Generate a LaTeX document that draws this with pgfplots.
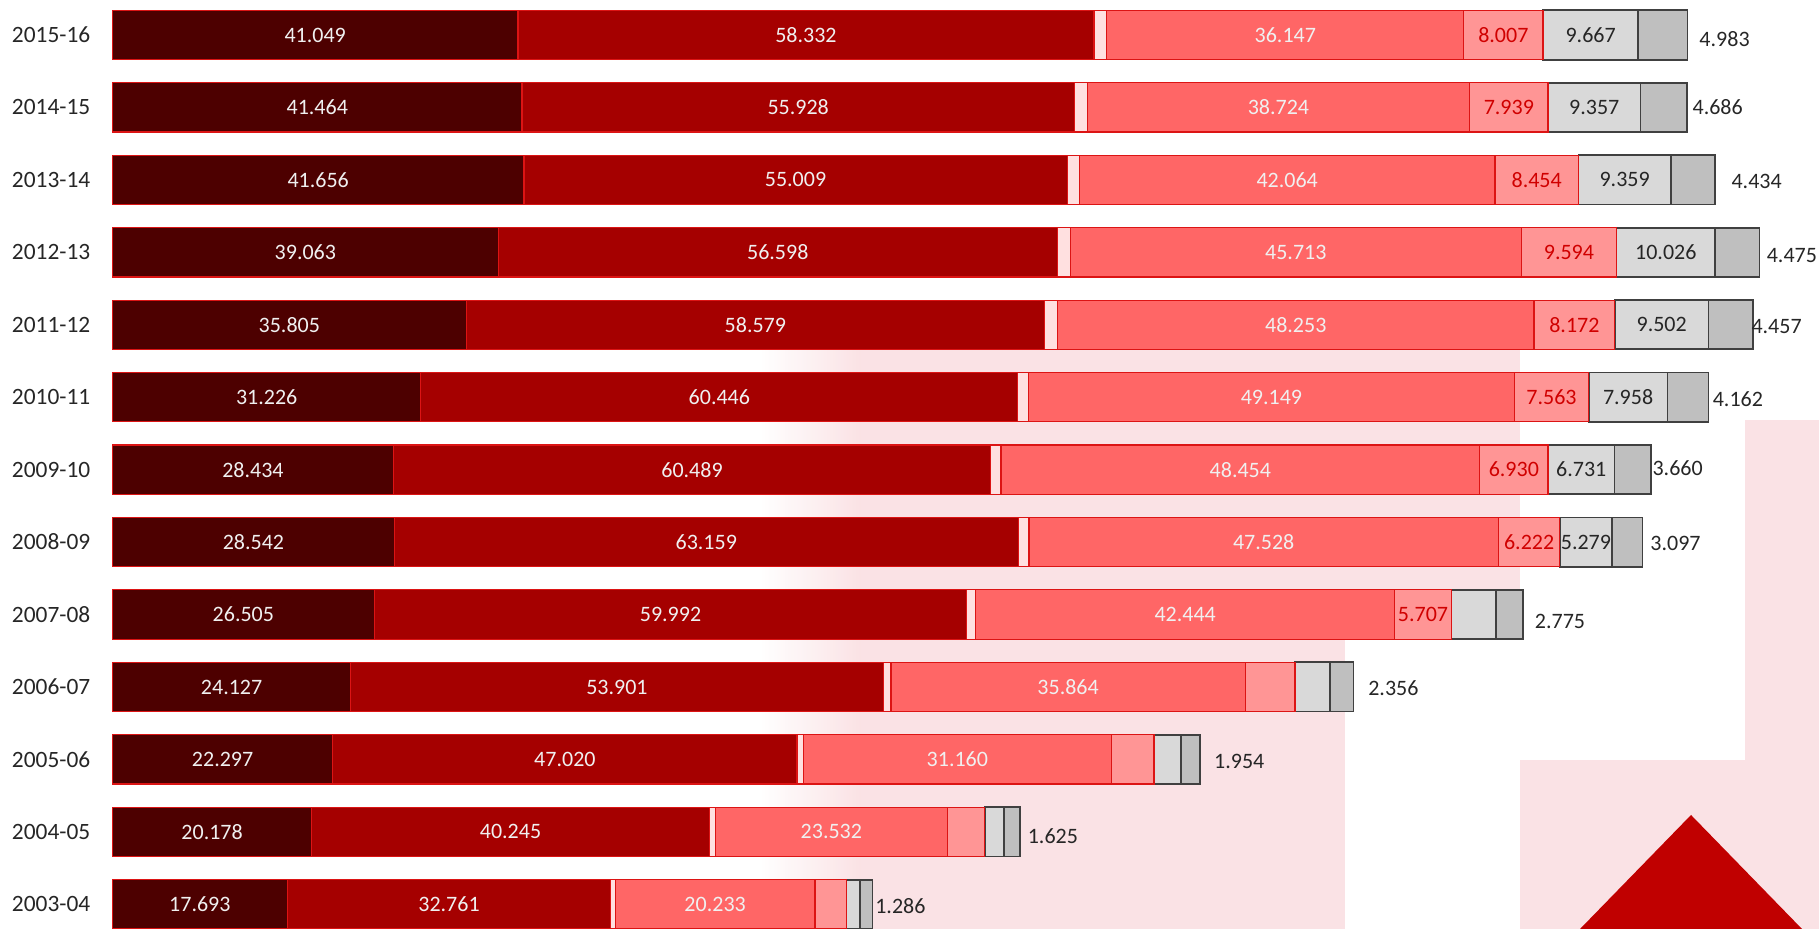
\documentclass[border=0pt]{standalone}
\usepackage{fontspec}
\setmainfont{Carlito}
\usepackage{pgfplots}
\usepackage{pgfplotstable}
\pgfplotsset{compat=1.18}

\definecolor{c1}{HTML}{4D0000}
\definecolor{c2}{HTML}{A50000}
\definecolor{c3}{HTML}{FFE0E0}
\definecolor{c4}{HTML}{FF6666}
\definecolor{c5}{HTML}{FF9595}
\definecolor{c6}{HTML}{D9D9D9}
\definecolor{c7}{HTML}{BFBFBF}
\definecolor{edgered}{HTML}{DC1414}
\definecolor{edgegray}{HTML}{404040}
\definecolor{txt}{HTML}{262626}
\definecolor{lbred}{HTML}{D00000}
\definecolor{wm}{HTML}{F9DDE0}
\definecolor{tri}{HTML}{C00000}

% y: 0 = 2003-04 ... 12 = 2015-16
% c (thin slice) and the unlabelled e/f values are read off the bar widths
% gap/dy: where the outside label sits, in pt
\pgfplotstableread{
y  a      b      c     d      e      f       g      le     lf      gap   dy
0  17.693 32.761 0.45  20.233 3.15   1.37    1.286  {}     {}      1.0   0.8
1  20.178 40.245 0.60  23.532 3.75   1.95    1.625  {}     {}      3.5   2.0
2  22.297 47.020 0.65  31.160 4.33   2.73    1.954  {}     {}      6.5   0.8
3  24.127 53.901 0.80  35.864 5.05   3.55    2.356  {}     {}      7.0   0.4
4  26.505 59.992 0.90  42.444 5.707  4.50    2.775  5.707  {}      5.5   3.3
5  28.542 63.159 1.10  47.528 6.222  5.279   3.097  6.222  5.279   3.5   0.5
6  28.434 60.489 1.05  48.454 6.930  6.731   3.660  6.930  6.731   0.5   -0.8
7  31.226 60.446 1.10  49.149 7.563  7.958   4.162  7.563  7.958   1.7   1.0
8  35.805 58.579 1.30  48.253 8.172  9.502   4.457  8.172  9.502   -1.0  1.0
9  39.063 56.598 1.30  45.713 9.594  10.026  4.475  9.594  10.026  3.2   1.6
10 41.656 55.009 1.25  42.064 8.454  9.359   4.434  8.454  9.359   8.0   1.0
11 41.464 55.928 1.30  38.724 7.939  9.357   4.686  7.939  9.357   2.5   0.0
12 41.049 58.332 1.30  36.147 8.007  9.667   4.983  8.007  9.667   5.5   1.8
}\datatable

\begin{document}
\begin{tikzpicture}

% faint watermark and the corner triangle, in screen pixels from the top left
\begin{scope}[x=0.5pt, y=-0.5pt, shift={(0pt,464.5pt)}]
  \begin{scope}[opacity=0.85]
  \shade[left color=white, right color=wm] (760,330) rectangle (860,929);
  \fill[wm] (860,330) rectangle (1345,929);
  \fill[wm] (1345,330) rectangle (1520,640);
  \fill[wm] (1520,760) rectangle (1745,929);
  \fill[wm] (1745,420) rectangle (1819,929);
  \end{scope}
  \fill[tri] (1691,815) -- (1802,929) -- (1580,929) -- cycle;
\end{scope}

\begin{axis}[
    at={(56.25pt,0pt)}, anchor=south west,
    x=4.938pt, y=36.22pt,
    xmin=0, xmax=172.79,
    ymin=-0.341, ymax=12.483,
    xbar stacked,
    bar width=0.68,
    axis line style={draw=none},
    tick style={draw=none},
    xtick=\empty,
    ytick={0,...,12},
    yticklabels={2003-04,2004-05,2005-06,2006-07,2007-08,2008-09,2009-10,
                 2010-11,2011-12,2012-13,2013-14,2014-15,2015-16},
    yticklabel style={font=\fontsize{11.7}{14}\selectfont, text=txt,
                      anchor=east, inner sep=0pt, xshift=-10.9pt},
    clip=false,
    point meta=explicit symbolic,
    nodes near coords style={font=\fontsize{11}{13}\selectfont, inner sep=0pt},
]

% stacked labels land in the middle of their slice
\addplot[fill=c1, draw=edgered, line width=0.6pt, nodes near coords,
    nodes near coords style={text=white!94!black, anchor=center}]
    table[x=a, y=y, meta=a] {\datatable};

\addplot[fill=c2, draw=edgered, line width=0.6pt, nodes near coords,
    nodes near coords style={text=white!94!black, anchor=center}]
    table[x=b, y=y, meta=b] {\datatable};

\addplot[fill=c3, draw=edgered, line width=0.6pt]
    table[x=c, y=y, meta=c] {\datatable};

\addplot[fill=c4, draw=edgered, line width=0.6pt, nodes near coords,
    nodes near coords style={text=white!94!black, anchor=center}]
    table[x=d, y=y, meta=d] {\datatable};

\addplot[fill=c5, draw=edgered, line width=0.6pt, nodes near coords,
    nodes near coords style={text=lbred, anchor=center}]
    table[x=e, y=y, meta=le] {\datatable};

\addplot[fill=c6, draw=edgegray, line width=0.9pt, nodes near coords,
    nodes near coords style={text=txt, anchor=center}]
    table[x=f, y=y, meta=lf] {\datatable};

% last slice: label outside, right of the bar
\addplot[fill=c7, draw=edgegray, line width=0.9pt, nodes near coords,
    visualization depends on={\thisrow{g} \as \val},
    visualization depends on={\thisrow{gap} \as \lgap},
    visualization depends on={\thisrow{dy} \as \ldy},
    nodes near coords style={text=txt, anchor=west,
        xshift={2.469pt*\val+\lgap*1pt}, yshift={-\ldy*1pt}}]
    table[x=g, y=y, meta=g] {\datatable};

\end{axis}

\pgfresetboundingbox
\useasboundingbox (0pt,0pt) rectangle (909.5pt,464.5pt);
\end{tikzpicture}
\end{document}
